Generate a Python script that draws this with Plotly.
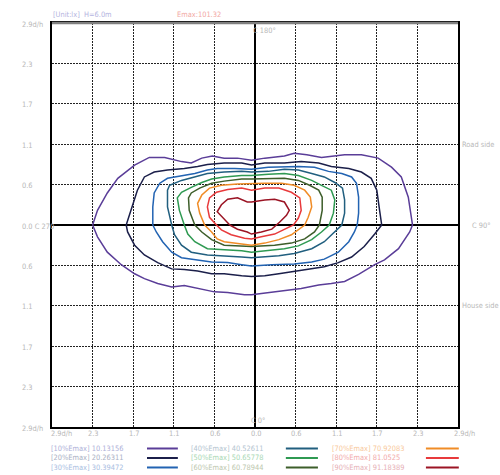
import plotly.graph_objects as go

# ---- data (d/h units, x: C270 -> C90, y: house side -> road side) ----
levels = ["10%", "20%", "30%", "40%", "50%", "60%", "70%", "80%", "90%"]
level_values = [10.13156, 20.26311, 30.39472, 40.52611, 50.65778, 60.78944, 70.92083, 81.0525, 91.18389]
emax = 101.32
unit_text = "[Unit:lx]  H=6.0m"

c10 = [(-2.32, 0), (-2.25, 0.21), (-2.11, 0.46), (-1.96, 0.67), (-1.72, 0.86), (-1.51, 0.97), (-1.29, 0.97),
       (-1.05, 0.91), (-0.91, 0.89), (-0.76, 0.96), (-0.61, 0.99), (-0.44, 0.96), (-0.25, 0.96), (-0.05, 0.93),
       (0.14, 0.96), (0.42, 0.99), (0.56, 1.03), (0.74, 1.01), (0.95, 0.97), (1.09, 0.99), (1.28, 1.01),
       (1.52, 1.01), (1.76, 0.96), (1.95, 0.83), (2.09, 0.69), (2.19, 0.40), (2.25, 0), (2.21, -0.10),
       (2.05, -0.34), (1.85, -0.50), (1.71, -0.57), (1.48, -0.71), (1.28, -0.81), (1.09, -0.84), (0.91, -0.86),
       (0.66, -0.91), (0.42, -0.94), (0.19, -0.97), (-0.05, -1.00), (-0.15, -1.00), (-0.39, -0.97),
       (-0.58, -0.96), (-0.82, -0.91), (-1.01, -0.87), (-1.19, -0.89), (-1.39, -0.84), (-1.58, -0.77),
       (-1.72, -0.70), (-1.91, -0.57), (-2.11, -0.39), (-2.25, -0.17), (-2.32, 0)]
c20 = [(-1.84, 0), (-1.76, 0.26), (-1.68, 0.50), (-1.58, 0.69), (-1.44, 0.76), (-1.25, 0.79), (-1.01, 0.81),
       (-0.82, 0.84), (-0.68, 0.87), (-0.44, 0.89), (-0.19, 0.89), (-0.05, 0.86), (0.14, 0.89), (0.42, 0.89),
       (0.66, 0.91), (0.91, 0.89), (1.09, 0.84), (1.34, 0.81), (1.52, 0.76), (1.66, 0.67), (1.74, 0.50),
       (1.78, 0.21), (1.81, 0), (1.71, -0.13), (1.56, -0.31), (1.38, -0.46), (1.19, -0.54), (0.99, -0.60),
       (0.81, -0.63), (0.56, -0.67), (0.34, -0.70), (0.14, -0.73), (-0.05, -0.74), (-0.19, -0.73),
       (-0.44, -0.70), (-0.62, -0.70), (-0.82, -0.66), (-1.01, -0.64), (-1.19, -0.63), (-1.39, -0.54),
       (-1.58, -0.43), (-1.72, -0.29), (-1.82, -0.10), (-1.84, 0)]
c30 = [(-1.46, 0), (-1.46, 0.26), (-1.44, 0.46), (-1.36, 0.60), (-1.25, 0.67), (-1.05, 0.71), (-0.86, 0.74),
       (-0.68, 0.79), (-0.54, 0.81), (-0.29, 0.81), (-0.05, 0.80), (0.19, 0.83), (0.42, 0.84), (0.62, 0.84),
       (0.85, 0.83), (1.05, 0.77), (1.24, 0.74), (1.38, 0.69), (1.45, 0.60), (1.48, 0.40), (1.48, 0.17),
       (1.46, 0), (1.42, -0.10), (1.34, -0.24), (1.19, -0.39), (0.99, -0.49), (0.81, -0.53), (0.56, -0.56),
       (0.24, -0.57), (-0.05, -0.59), (-0.19, -0.57), (-0.39, -0.54), (-0.62, -0.53), (-0.86, -0.50),
       (-1.05, -0.47), (-1.19, -0.39), (-1.32, -0.24), (-1.41, -0.10), (-1.46, 0)]
c40 = [(-1.19, 0), (-1.25, 0.26), (-1.25, 0.50), (-1.22, 0.57), (-1.05, 0.64), (-0.86, 0.69), (-0.68, 0.74),
       (-0.44, 0.76), (-0.19, 0.77), (-0.05, 0.76), (0.19, 0.77), (0.42, 0.80), (0.62, 0.79), (0.81, 0.74),
       (0.99, 0.69), (1.14, 0.61), (1.25, 0.53), (1.28, 0.36), (1.28, 0.17), (1.24, 0), (1.14, -0.10),
       (0.99, -0.24), (0.81, -0.34), (0.56, -0.41), (0.34, -0.44), (-0.05, -0.47), (-0.19, -0.46),
       (-0.44, -0.44), (-0.68, -0.43), (-0.91, -0.39), (-1.05, -0.29), (-1.15, -0.14), (-1.19, 0)]
c50 = [(-1.01, 0), (-1.08, 0.21), (-1.11, 0.39), (-1.05, 0.47), (-0.91, 0.54), (-0.76, 0.61), (-0.62, 0.66),
       (-0.44, 0.69), (-0.19, 0.71), (-0.05, 0.71), (0.19, 0.73), (0.42, 0.74), (0.62, 0.71), (0.81, 0.64),
       (0.95, 0.57), (1.09, 0.50), (1.14, 0.36), (1.12, 0.17), (1.06, 0), (0.95, -0.10), (0.81, -0.21),
       (0.62, -0.30), (0.42, -0.34), (0.19, -0.36), (-0.05, -0.39), (-0.19, -0.37), (-0.44, -0.36),
       (-0.68, -0.34), (-0.86, -0.24), (-0.96, -0.13), (-1.01, 0)]
c60 = [(-0.86, 0), (-0.94, 0.21), (-0.95, 0.39), (-0.91, 0.46), (-0.79, 0.53), (-0.62, 0.60), (-0.44, 0.63),
       (-0.19, 0.66), (-0.05, 0.66), (0.19, 0.67), (0.42, 0.67), (0.62, 0.64), (0.78, 0.57), (0.91, 0.50),
       (0.96, 0.40), (0.96, 0.21), (0.92, 0), (0.85, -0.10), (0.71, -0.20), (0.52, -0.26), (0.28, -0.29),
       (-0.05, -0.31), (-0.19, -0.30), (-0.44, -0.29), (-0.62, -0.21), (-0.76, -0.10), (-0.86, 0)]
c70 = [(-0.72, 0), (-0.79, 0.17), (-0.82, 0.31), (-0.76, 0.43), (-0.65, 0.53), (-0.48, 0.57), (-0.25, 0.59),
       (-0.05, 0.60), (0.14, 0.60), (0.38, 0.60), (0.56, 0.57), (0.71, 0.50), (0.79, 0.40), (0.81, 0.26),
       (0.76, 0.11), (0.71, 0), (0.62, -0.07), (0.52, -0.14), (0.34, -0.21), (0.14, -0.26), (-0.05, -0.29),
       (-0.19, -0.27), (-0.44, -0.24), (-0.54, -0.20), (-0.62, -0.10), (-0.72, 0)]
c80 = [(-0.55, 0), (-0.65, 0.11), (-0.68, 0.26), (-0.65, 0.39), (-0.55, 0.47), (-0.39, 0.51), (-0.19, 0.53),
       (-0.05, 0.50), (0.14, 0.53), (0.34, 0.53), (0.52, 0.47), (0.64, 0.39), (0.66, 0.21), (0.62, 0.10),
       (0.55, 0), (0.42, -0.06), (0.28, -0.13), (0.09, -0.17), (-0.05, -0.20), (-0.15, -0.19), (-0.34, -0.14),
       (-0.48, -0.07), (-0.55, 0)]
c90 = [(-0.36, 0), (-0.46, 0.10), (-0.54, 0.19), (-0.48, 0.29), (-0.39, 0.37), (-0.25, 0.39), (-0.11, 0.33),
       (-0.05, 0.33), (0.14, 0.36), (0.28, 0.37), (0.42, 0.33), (0.49, 0.21), (0.45, 0.14), (0.35, 0.04),
       (0.24, -0.06), (0.09, -0.10), (-0.05, -0.13), (-0.11, -0.10), (-0.25, -0.06), (-0.36, 0)]
contours = [c10, c20, c30, c40, c50, c60, c70, c80, c90]

grid_vals = [-2.9, -2.32, -1.74, -1.16, -0.58, 0.0, 0.58, 1.16, 1.74, 2.32, 2.9]
x_tick_text = ["2.9d/h", "2.3", "1.7", "1.1", "0.6", "0.0", "0.6", "1.1", "1.7", "2.3", "2.9d/h"]
y_tick_text = ["2.9d/h", "2.3", "1.7", "1.1", "0.6", "0.0 C 270", "0.6", "1.1", "1.7", "2.3", "2.9d/h"]

# ---- styles ----
line_colors = ["#5a3d98", "#1b1f4a", "#2263b2", "#215f7f", "#2f9a52", "#3d5e2a", "#f08c26", "#e83a3c", "#9b1424"]
text_colors = ["#aeb0d8", "#a9b0c4", "#a9bedf", "#b3c4cf", "#a9d8b4", "#bcc7ae", "#f8c99c", "#f2aaaa", "#e6b0b6"]
FONT = "DejaVu Sans Condensed, Liberation Sans Narrow, sans-serif"
FS = 7.4
GREY = "#b8b8b8"

fig = go.Figure()
for pts, col in zip(contours, line_colors):
    fig.add_trace(go.Scatter(x=[p[0] for p in pts], y=[p[1] for p in pts], mode="lines",
                             line=dict(color=col, width=1.5), hoverinfo="skip", showlegend=False))

axis_common = dict(range=[-2.9, 2.9], tickvals=grid_vals, showticklabels=False, ticks="",
                   showgrid=True, gridcolor="#222222", gridwidth=1, griddash="2px,1px",
                   zeroline=True, zerolinecolor="black", zerolinewidth=2,
                   showline=True, linecolor="black", linewidth=1.5, mirror=True, fixedrange=True)
fig.update_xaxes(**axis_common)
fig.update_yaxes(**axis_common)

ann = []
# bottom tick labels
for v, t in zip(grid_vals, x_tick_text):
    a = dict(x=v, y=-0.017, xref="x", yref="paper", text=t, showarrow=False, yanchor="middle",
             font=dict(family=FONT, size=FS, color=GREY))
    if v == grid_vals[0]:
        a.update(xanchor="left", xshift=-3)
    elif v == grid_vals[-1]:
        a.update(xanchor="left", xshift=-6)
    else:
        a.update(xanchor="center", xshift=1)
    ann.append(a)
# left tick labels
for v, t in zip(grid_vals[::-1], y_tick_text):
    ann.append(dict(x=-0.079, y=v, xref="paper", yref="y", text=t, showarrow=False, xanchor="left",
                    yanchor="middle", yshift=-1, font=dict(family=FONT, size=FS, color=GREY)))
# side labels
ann += [
    dict(x=1.005, y=1.16, xref="paper", yref="y", text="Road side", showarrow=False, xanchor="left",
         yanchor="middle", font=dict(family=FONT, size=FS, color=GREY)),
    dict(x=1.03, y=0, xref="paper", yref="y", text="C 90°", showarrow=False, xanchor="left",
         yanchor="middle", font=dict(family=FONT, size=FS, color=GREY)),
    dict(x=1.005, y=-1.16, xref="paper", yref="y", text="House side", showarrow=False, xanchor="left",
         yanchor="middle", font=dict(family=FONT, size=FS, color=GREY)),
    dict(x=-0.06, y=2.79, xref="x", yref="y", text="C 180°", showarrow=False, xanchor="left",
         yanchor="middle", font=dict(family=FONT, size=FS, color=GREY)),
    dict(x=-0.08, y=-2.8, xref="x", yref="y", text="C 0°", showarrow=False, xanchor="left",
         yanchor="middle", font=dict(family=FONT, size=FS, color=GREY)),
    dict(x=-0.0025, y=1.02, xref="paper", yref="paper", text=unit_text, showarrow=False, xanchor="left",
         yanchor="middle", font=dict(family=FONT, size=FS, color="#b4b4e0")),
    dict(x=0.303, y=1.02, xref="paper", yref="paper", text=f"Emax:{emax}", showarrow=False, xanchor="left",
         yanchor="middle", font=dict(family=FONT, size=FS, color="#f2a8a4")),
]

# legend (3 columns x 3 rows)
col_text_x = [-0.0074, 0.3374, 0.6847]
col_line_x = [(0.234, 0.310), (0.576, 0.655), (0.921, 1.002)]
row_y = [-0.0532, -0.0767, -0.1002]
shapes = []
for i, (lv, val) in enumerate(zip(levels, level_values)):
    c, r = divmod(i, 3)
    ann.append(dict(x=col_text_x[c], y=row_y[r], xref="paper", yref="paper",
                    text=f"[{lv}Emax] {val}", showarrow=False, xanchor="left", yanchor="middle",
                    font=dict(family=FONT, size=FS, color=text_colors[i])))
    x0, x1 = col_line_x[c]
    shapes.append(dict(type="line", xref="paper", yref="paper", x0=x0, x1=x1, y0=row_y[r], y1=row_y[r],
                       line=dict(color=line_colors[i], width=2)))
# top border grey
shapes.append(dict(type="line", xref="paper", yref="paper", x0=0, x1=1, y0=1, y1=1,
                   line=dict(color="#808080", width=2.5)))

fig.update_layout(width=500, height=475, margin=dict(l=52, r=42, t=23, b=48),
                  paper_bgcolor="white", plot_bgcolor="white", showlegend=False,
                  annotations=ann, shapes=shapes)
fig.write_html("out.html", config={"displayModeBar": False},
               post_script="document.body.style.margin='0px';document.body.style.overflow='hidden';")
